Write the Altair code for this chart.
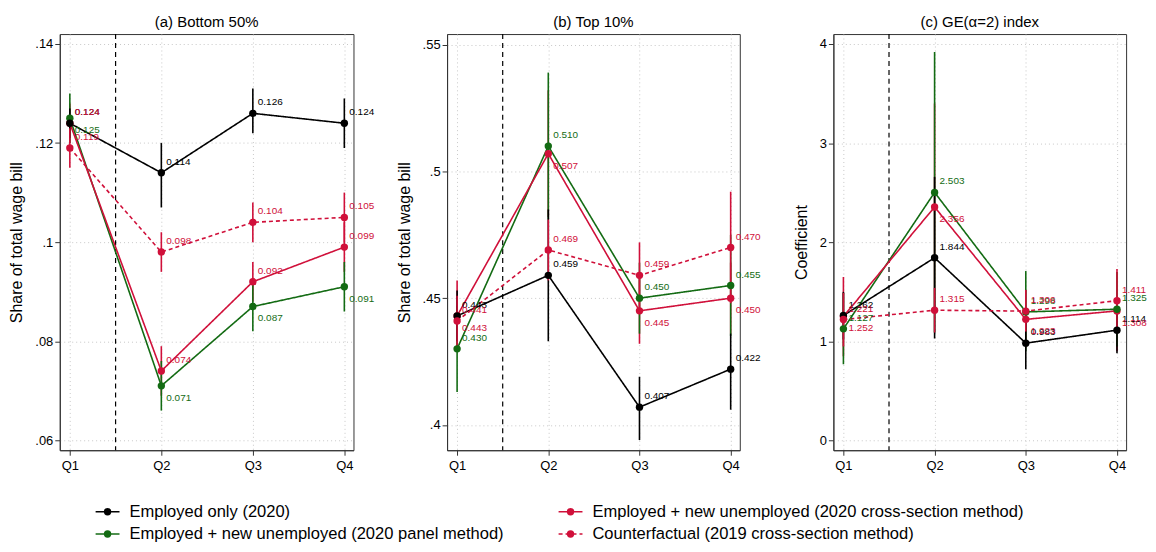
import altair as alt
import pandas as pd

FONT = "Liberation Sans"

quarters = [1, 2, 3, 4]
quarter_labels = ["Q1", "Q2", "Q3", "Q4"]

series_names = [
    "Employed only (2020)",
    "Employed + new unemployed (2020 panel method)",
    "Employed + new unemployed (2020 cross-section method)",
    "Counterfactual (2019 cross-section method)",
]
series_colors = ["#000000", "#136b13", "#d0103a", "#d0103a"]
series_dash = [[1, 0], [1, 0], [1, 0], [4, 3]]
# drawing order of the series (lower drawn first)
series_draw = [2, 1, 0, 3]

policy_break = 1.5

# (a) Bottom 50%
a_emp = [0.124, 0.114, 0.126, 0.124]
a_emp_lo = [0.121, 0.107, 0.122, 0.119]
a_emp_hi = [0.127, 0.120, 0.131, 0.129]
a_pan = [0.125, 0.071, 0.087, 0.091]
a_pan_lo = [0.120, 0.066, 0.082, 0.086]
a_pan_hi = [0.130, 0.076, 0.092, 0.096]
a_crs = [0.124, 0.074, 0.092, 0.099]
a_crs_lo = [0.120, 0.069, 0.088, 0.094]
a_crs_hi = [0.128, 0.079, 0.096, 0.104]
a_cf = [0.119, 0.098, 0.104, 0.105]
a_cf_lo = [0.115, 0.094, 0.100, 0.100]
a_cf_hi = [0.123, 0.102, 0.108, 0.110]

# (b) Top 10%
b_emp = [0.443, 0.459, 0.407, 0.422]
b_emp_lo = [0.433, 0.433, 0.394, 0.406]
b_emp_hi = [0.453, 0.485, 0.419, 0.436]
b_pan = [0.430, 0.510, 0.450, 0.455]
b_pan_lo = [0.413, 0.481, 0.436, 0.435]
b_pan_hi = [0.447, 0.539, 0.464, 0.475]
b_crs = [0.443, 0.507, 0.445, 0.450]
b_crs_lo = [0.430, 0.482, 0.432, 0.436]
b_crs_hi = [0.457, 0.532, 0.458, 0.464]
b_cf = [0.441, 0.469, 0.459, 0.470]
b_cf_lo = [0.431, 0.457, 0.446, 0.448]
b_cf_hi = [0.451, 0.481, 0.472, 0.492]

# (c) GE(alpha=2) index
c_emp = [1.262, 1.844, 0.983, 1.114]
c_emp_lo = [1.02, 1.03, 0.72, 0.88]
c_emp_hi = [1.50, 2.66, 1.25, 1.35]
c_pan = [1.127, 2.503, 1.298, 1.325]
c_pan_lo = [0.77, 1.09, 0.90, 0.95]
c_pan_hi = [1.49, 3.92, 1.71, 1.70]
c_crs = [1.252, 2.356, 1.223, 1.308]
c_crs_lo = [0.85, 1.30, 0.93, 0.90]
c_crs_hi = [1.65, 3.40, 1.52, 1.73]
c_cf = [1.221, 1.315, 1.306, 1.411]
c_cf_lo = [0.95, 1.09, 1.10, 1.12]
c_cf_hi = [1.49, 1.54, 1.52, 1.70]

panel_data = {
    "a": [(a_emp, a_emp_lo, a_emp_hi), (a_pan, a_pan_lo, a_pan_hi),
          (a_crs, a_crs_lo, a_crs_hi), (a_cf, a_cf_lo, a_cf_hi)],
    "b": [(b_emp, b_emp_lo, b_emp_hi), (b_pan, b_pan_lo, b_pan_hi),
          (b_crs, b_crs_lo, b_crs_hi), (b_cf, b_cf_lo, b_cf_hi)],
    "c": [(c_emp, c_emp_lo, c_emp_hi), (c_pan, c_pan_lo, c_pan_hi),
          (c_crs, c_crs_lo, c_crs_hi), (c_cf, c_cf_lo, c_cf_hi)],
}
# which series have their value labels below the marker, per panel
below_labels = {
    "a": [series_names[1]],
    "b": [series_names[2]],
    "c": [series_names[2]],
}

rows = []
for key, lst in panel_data.items():
    for si, (vals, los, his) in enumerate(lst):
        for qi, q in enumerate(quarters):
            rows.append({
                "panel": key, "series": series_names[si], "draw": series_draw[si], "q": q,
                "value": vals[qi], "lo": los[qi], "hi": his[qi],
                "pos": "below" if series_names[si] in below_labels[key] else "above",
            })
df = pd.DataFrame(rows)

color = alt.Color("series:N", scale=alt.Scale(domain=series_names, range=series_colors), legend=None)
dash = alt.StrokeDash("series:N", scale=alt.Scale(domain=series_names, range=series_dash), legend=None)

x_axis = alt.Axis(values=quarters, labelExpr="'Q' + datum.value", title=None, grid=True,
                  labelPadding=4)
x_scale = alt.Scale(domain=[0.89, 4.1], nice=False, zero=False)


def make_panel(key, title, ytitle, ydomain, yticks, fmt, width):
    d = df[df.panel == key]
    base = alt.Chart(d)
    y_axis = alt.Axis(values=yticks, title=ytitle, labelExpr=fmt, grid=True, titlePadding=10)
    y_scale = alt.Scale(domain=ydomain, nice=False, zero=False)
    X = alt.X("q:Q", scale=x_scale, axis=x_axis)
    Y = alt.Y("value:Q", scale=y_scale, axis=y_axis)
    vline = alt.Chart(pd.DataFrame({"q": [policy_break]})).mark_rule(
        color="black", strokeDash=[5, 4], strokeWidth=1.2
    ).encode(x=alt.X("q:Q", scale=x_scale, axis=x_axis))
    err = base.mark_rule(strokeWidth=1.6).encode(
        x=X, y=alt.Y("lo:Q", scale=y_scale, axis=y_axis), y2="hi:Q", color=color,
        order=alt.Order("draw:Q"))
    lines = base.mark_line(strokeWidth=1.6).encode(x=X, y=Y, color=color, strokeDash=dash,
                                                   order="q:Q")
    pts = base.mark_circle(size=55, opacity=1).encode(x=X, y=Y, color=color,
                                                      order=alt.Order("draw:Q"))
    txt = alt.Text("value:Q", format=".3f")
    lab_up = base.transform_filter(alt.datum.pos == "above").mark_text(
        align="left", baseline="middle", dx=5, dy=-11, fontSize=10, font=FONT
    ).encode(x=X, y=Y, text=txt, color=color)
    lab_dn = base.transform_filter(alt.datum.pos == "below").mark_text(
        align="left", baseline="middle", dx=5, dy=12, fontSize=10, font=FONT
    ).encode(x=X, y=Y, text=txt, color=color)
    return alt.layer(vline, err, lines, pts, lab_up, lab_dn).properties(
        width=width, height=418, title=title)


fmt_share = "replace(format(datum.value, '.2~f'), /^0/, '')"
fmt_int = "format(datum.value, 'd')"

pa = make_panel("a", "(a) Bottom 50%", "Share of total wage bill", [0.058, 0.142],
                [0.06, 0.08, 0.10, 0.12, 0.14], fmt_share, 295)
pb = make_panel("b", "(b) Top 10%", "Share of total wage bill", [0.390, 0.5542],
                [0.40, 0.45, 0.50, 0.55], fmt_share, 294)
pc = make_panel("c", "(c) GE(α=2) index", "Coefficient", [-0.097, 4.1],
                [0, 1, 2, 3, 4], fmt_int, 294)

panels = alt.hconcat(pa, pb, pc, spacing=94, bounds="flush")

# legend
legend_col = [0, 0, 1, 1]
legend_row = [0, 1, 0, 1]
leg_df = pd.DataFrame({"series": series_names, "col": legend_col, "row": legend_row})
lx = alt.Scale(domain=[0, 1060], nice=False, zero=False)
ly = alt.Scale(domain=[-0.35, 1.35], nice=False, zero=False, reverse=True)
leg_base = alt.Chart(leg_df).transform_calculate(
    x0="36 + datum.col * 465", x1="datum.x0 + 24", xm="datum.x0 + 12", xt="datum.x0 + 34"
)
leg_rule = leg_base.mark_rule(strokeWidth=1.6).encode(
    x=alt.X("x0:Q", scale=lx, axis=None), x2="x1:Q",
    y=alt.Y("row:Q", scale=ly, axis=None), color=color, strokeDash=dash)
leg_pt = leg_base.mark_circle(size=55, opacity=1).encode(
    x=alt.X("xm:Q", scale=lx, axis=None), y=alt.Y("row:Q", scale=ly, axis=None), color=color)
leg_txt = leg_base.mark_text(align="left", baseline="middle", fontSize=16.6, font=FONT,
                             color="black").encode(
    x=alt.X("xt:Q", scale=lx, axis=None), y=alt.Y("row:Q", scale=ly, axis=None),
    text="series:N")
legend = alt.layer(leg_rule, leg_pt, leg_txt).properties(
    width=1060, height=38, view=alt.ViewBackground(strokeOpacity=0))

chart = alt.vconcat(
    panels, legend, spacing=30, background="white",
    padding=alt.Padding(top=5, left=0, right=0, bottom=0)
).configure_view(
    stroke="#333", strokeWidth=1
).configure_axis(
    labelFont=FONT, titleFont=FONT, labelFontSize=13, titleFontSize=16,
    titleFontWeight="normal", labelColor="black", titleColor="black",
    gridColor="#c8c8c8", gridDash=[1, 3], domainColor="#333", tickColor="#333",
    tickSize=5
).configure_title(
    font=FONT, fontSize=15, fontWeight="normal", color="black", offset=3.5
)

chart.save("out.html", embed_options={"renderer": "svg", "actions": False})
